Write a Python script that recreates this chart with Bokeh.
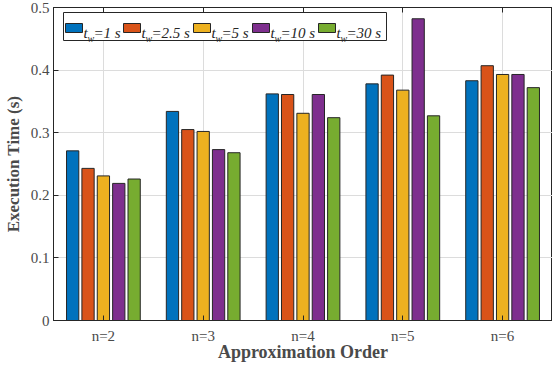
from bokeh.plotting import figure
from bokeh.models import Range1d, FixedTicker, LinearAxis
from bokeh.core.properties import value
from bokeh.embed import file_html
from bokeh.resources import INLINE

# Approximation orders (groups) and wait times (series)
orders = ["n=2", "n=3", "n=4", "n=5", "n=6"]
wait_times = ["1", "2.5", "5", "10", "30"]

# Execution time (s) per order, one list per wait time
t_w_1 = [0.271, 0.334, 0.362, 0.378, 0.383]
t_w_2_5 = [0.243, 0.305, 0.361, 0.392, 0.407]
t_w_5 = [0.231, 0.302, 0.331, 0.368, 0.393]
t_w_10 = [0.219, 0.273, 0.361, 0.482, 0.393]
t_w_30 = [0.226, 0.268, 0.324, 0.327, 0.372]

y_ticks = [0, 0.1, 0.2, 0.3, 0.4, 0.5]
y_tick_labels = ["0", "0.1", "0.2", "0.3", "0.4", "0.5"]

series = [t_w_1, t_w_2_5, t_w_5, t_w_10, t_w_30]
colors = ["#0072BD", "#D95319", "#EDB120", "#7E2F8E", "#77AC30"]

FONT = "'Liberation Serif', serif"
EDGE = "#262626"
TEXT = "#4a4a4a"

# frame geometry (pixels)
W, H = 552, 365
F_LEFT, F_RIGHT, F_TOP, F_BOTTOM = 53, 552, 7, 320
X0, X1 = 0.5, len(orders) + 0.5
Y0, Y1 = 0.0, 0.5

p = figure(width=W, height=H, output_backend="svg", toolbar_location=None,
           x_range=Range1d(X0, X1), y_range=Range1d(Y0, Y1),
           min_border_left=F_LEFT, min_border_right=W - F_RIGHT,
           min_border_top=F_TOP, min_border_bottom=H - F_BOTTOM)
p.background_fill_color = "white"
p.border_fill_color = "white"
p.outline_line_color = EDGE
p.outline_line_width = 1


def px2x(px):
    return X0 + (px - F_LEFT) * (X1 - X0) / (F_RIGHT - F_LEFT)


def px2y(py):
    return Y0 + (F_BOTTOM - py) * (Y1 - Y0) / (F_BOTTOM - F_TOP)


# grouped bars
group_x = list(range(1, len(orders) + 1))
step = 0.154
bar_w = 0.123
for i, (vals, c) in enumerate(zip(series, colors)):
    off = (i - (len(series) - 1) / 2) * step
    p.vbar(x=[g + off for g in group_x], top=vals, bottom=0, width=bar_w,
           fill_color=c, line_color=EDGE, line_width=1)

# axes
xa = p.xaxis[0]
xa.ticker = FixedTicker(ticks=group_x)
xa.major_label_overrides = {g: lab for g, lab in zip(group_x, orders)}
xa.axis_label = "Approximation Order"
xa.axis_label_text_font = FONT
xa.axis_label_text_font_style = "bold"
xa.axis_label_text_font_size = "18px"
xa.axis_label_text_color = TEXT
xa.axis_label_standoff = -5
xa.major_label_text_font = FONT
xa.major_label_text_font_size = "15px"
xa.major_label_text_color = TEXT
xa.major_label_standoff = 7

ya = p.yaxis[0]
ya.ticker = FixedTicker(ticks=y_ticks)
ya.major_label_overrides = {t: lab for t, lab in zip(y_ticks, y_tick_labels)}
ya.axis_label = "Execution Time (s)"
ya.axis_label_text_font = FONT
ya.axis_label_text_font_style = "bold"
ya.axis_label_text_font_size = "17px"
ya.axis_label_text_color = TEXT
ya.axis_label_standoff = 5
ya.major_label_text_font = FONT
ya.major_label_text_font_size = "15px"
ya.major_label_text_color = TEXT
ya.major_label_standoff = 4

for ax in (xa, ya):
    ax.axis_line_color = EDGE
    ax.major_tick_line_color = EDGE
    ax.major_tick_in = 5
    ax.major_tick_out = 0
    ax.minor_tick_line_color = None

# top edge: inward ticks at the group centres, no labels
top = LinearAxis(ticker=FixedTicker(ticks=group_x),
                 major_label_overrides={g: "" for g in group_x},
                 major_label_standoff=0, axis_line_color=EDGE, major_tick_line_color=EDGE,
                 major_tick_in=5, major_tick_out=0, minor_tick_line_color=None)
p.add_layout(top, "above")

p.xgrid.ticker = FixedTicker(ticks=group_x)
p.ygrid.ticker = FixedTicker(ticks=y_ticks)
for g in (p.xgrid, p.ygrid):
    g.grid_line_color = "#dcdcdc"
    g.grid_line_width = 1

# legend (single row, top left)
p.quad(left=[px2x(63)], right=[px2x(386)], top=[px2y(12)], bottom=[px2y(40)],
       fill_color="white", line_color=EDGE, line_width=1)
swatch_left = [65, 123, 193, 252, 318]
for sl, c, tw in zip(swatch_left, colors, wait_times):
    p.quad(left=[px2x(sl)], right=[px2x(sl + 17)], top=[px2y(23)], bottom=[px2y(32)],
           fill_color=c, line_color=EDGE, line_width=1)
    p.text(x=[px2x(sl + 18)], y=[px2y(32)], text=["t"], text_font=value(FONT),
           text_font_style="italic", text_font_size="15px", text_color="#262626",
           text_baseline="alphabetic", text_align="left")
    p.text(x=[px2x(sl + 22)], y=[px2y(38)], text=["w"], text_font=value(FONT),
           text_font_style="italic", text_font_size="10px", text_color="#262626",
           text_baseline="alphabetic", text_align="left")
    p.text(x=[px2x(sl + 28)], y=[px2y(32)], text=["=" + tw + " s"], text_font=value(FONT),
           text_font_style="italic", text_font_size="15px", text_color="#262626",
           text_baseline="alphabetic", text_align="left")

open("out.html", "w").write(file_html(p, INLINE))
